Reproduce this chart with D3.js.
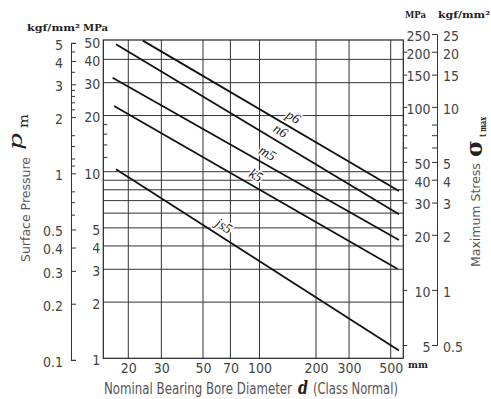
<!DOCTYPE html>
<html><head><meta charset="utf-8">
<script src="https://cdn.jsdelivr.net/npm/d3@7"></script>
<style>
body{margin:0;background:#fff}
svg{display:block}
.tk text{font-family:"Liberation Sans Narrow","DejaVu Sans Condensed",Roboto,sans-serif;font-size:14px;fill:#444}
.tk line,.tk path{stroke:#333;stroke-width:1}
.ttl{font-family:"Liberation Sans Narrow","DejaVu Sans Condensed",Roboto,sans-serif;fill:#555}
.unit{font-family:"DejaVu Serif",serif;font-weight:bold;font-size:10px;fill:#222}
</style>
</head><body>
<svg id="c" width="491" height="399"></svg>
<script>
// ---- data ----
const boreTicks = [20,30,50,70,100,200,300,500];
const mpaLeftTicks = [50,40,30,20,10,5,4,3,2,1];
const mpaGrid = [40,30,20,10,9,8,7,6,5,4,3,2];
const mpaLeftMinor = [18,16,14,12];
const kgfLeftTicks = [5,4,3,2,1,0.5,0.4,0.3,0.2,0.1];
const kgfLeftMinor = [4.5,3.5,2.8,2.6,2.4,2.2,1.6,1.4,1.2,1.1,0.8,0.7,0.6];
const stressMpaTicks = [250,200,150,100,50,40,30,20,10,5];
const stressKgfLabels = ["25","20","15","10","5","4","3","2","1","0.5"];
const stressMinor = [80,70,60];
const stressEdgeTicks = [200,150,100,80,70,60,50,40,30,20,10,5];

const fits = ["p6","n6","m5","k5","js5"];
const dStart = [23.9,17.2,16.5,16.8,17.2];
const pStart = [50.4,48.2,31.9,22.5,10.3];
const dEnd = [553,553,553,544,553];
const pEnd = [7.88,5.91,4.31,3.01,1.10];
const dLabel = [142,121,103.5,89.7,60.3];

// ---- layout ----
const L=103.3, R=403.3, T=40, B=358.3;
const KGF = 9.80665;
const svg = d3.select("#c");
const x = d3.scaleLog().domain([14.72,583.5]).range([L,R]);
const y = d3.scaleLog().domain([1,50.8]).range([B,T]);
const yk = d3.scaleLog().domain([0.1,5]).range([y(0.1*KGF), y(5*KGF)]);
const yr = d3.scaleLog().domain([5,250]).range([345,34]);

// fit a text horizontally to a target width by scaling
function fitText(parent, str, px, py, target, cls, attrs) {
  const t = parent.append("text").text(str);
  if (cls) t.attr("class", cls);
  for (const k in (attrs||{})) t.attr(k, attrs[k]);
  const w = t.node().getComputedTextLength();
  t.attr("transform", `translate(${px},${py}) scale(${target/w},1)`);
  return t;
}

// grid
const g = svg.append("g").attr("stroke","#333").attr("stroke-width",1);
g.selectAll(".v").data(boreTicks).join("line")
  .attr("x1",d=>x(d)).attr("x2",d=>x(d)).attr("y1",T).attr("y2",B);
g.selectAll(".h").data(mpaGrid).join("line")
  .attr("x1",L).attr("x2",R).attr("y1",d=>y(d)).attr("y2",d=>y(d));
svg.append("rect").attr("x",L).attr("y",T).attr("width",R-L).attr("height",B-T)
  .attr("fill","none").attr("stroke","#222").attr("stroke-width",1.2);

// bottom axis labels
svg.append("g").attr("class","tk").attr("transform",`translate(0,${B})`)
  .call(d3.axisBottom(x).tickValues(boreTicks).tickFormat(d3.format("d")).tickSize(0).tickPadding(5))
  .call(a=>a.select(".domain").remove());

// left MPa axis
svg.append("g").attr("class","tk").attr("transform",`translate(${L},0)`)
  .call(d3.axisLeft(y).tickValues(mpaLeftTicks).tickFormat(d3.format("d")).tickSize(0).tickPadding(3))
  .call(a=>a.select(".domain").remove())
  .selectAll("text").attr("dy","0.45em");
svg.append("g").attr("class","tk").attr("transform",`translate(${L},0)`)
  .call(d3.axisLeft(y).tickValues(mpaLeftMinor).tickFormat("").tickSize(-4))
  .call(a=>a.select(".domain").remove());

// left kgf axis
svg.append("g").attr("class","tk").attr("transform","translate(71,0)")
  .call(d3.axisLeft(yk).tickValues(kgfLeftTicks).tickFormat(d=>String(d)).tickSize(-5).tickPadding(8))
  .selectAll("text").attr("dy","0.45em");
svg.append("g").attr("class","tk").attr("transform","translate(71,0)")
  .call(d3.axisLeft(yk).tickValues(kgfLeftMinor).tickFormat("").tickSize(-4))
  .call(a=>a.select(".domain").remove());

// right edge ticks of plot
svg.append("g").attr("class","tk").attr("transform",`translate(${R},0)`)
  .call(d3.axisRight(yr).tickValues(stressEdgeTicks).tickFormat("").tickSize(4))
  .call(a=>a.select(".domain").remove());

// right stress axis
svg.append("g").attr("class","tk").attr("transform","translate(437,0)")
  .call(d3.axisLeft(yr).tickValues(stressMpaTicks).tickFormat(d3.format("d")).tickSize(5).tickPadding(1.5))
  .selectAll("text").attr("dy","0.45em");
svg.append("g").attr("class","tk").attr("transform","translate(437,0)")
  .call(d3.axisLeft(yr).tickValues(stressMinor).tickFormat("").tickSize(5))
  .call(a=>a.select(".domain").remove());
svg.append("g").attr("class","tk").attr("transform","translate(437,0)")
  .call(d3.axisRight(yr).tickValues(stressMpaTicks).tickFormat((d,i)=>stressKgfLabels[i]).tickSize(0).tickPadding(6))
  .call(a=>a.select(".domain").remove())
  .selectAll("text").attr("dy","0.45em");

// fit lines
const lines = fits.map((n,i)=>({name:n, pts:[[dStart[i],pStart[i]],[dEnd[i],pEnd[i]]], dl:dLabel[i]}));
const lineGen = d3.line().x(d=>x(d[0])).y(d=>y(d[1]));
svg.append("g").selectAll("path").data(lines).join("path")
  .attr("d",d=>lineGen(d.pts)).attr("fill","none").attr("stroke","#111").attr("stroke-width",1.8);

// labels
svg.append("g").selectAll("text").data(lines).join("text")
  .attr("transform",d=>{
    const x0=x(d.pts[0][0]), y0=y(d.pts[0][1]), x1=x(d.pts[1][0]), y1=y(d.pts[1][1]);
    const ang=Math.atan2(y1-y0,x1-x0)*180/Math.PI;
    const xl=x(d.dl), yl=y0+(xl-x0)*(y1-y0)/(x1-x0);
    return `translate(${xl},${yl}) rotate(${ang})`;
  })
  .attr("y",-6).attr("text-anchor","middle")
  .attr("font-family","Liberation Serif, DejaVu Serif, serif").attr("font-style","italic")
  .attr("font-size",14).attr("fill","#222")
  .attr("stroke","#fff").attr("stroke-width",3).attr("paint-order","stroke")
  .text(d=>d.name);

// unit labels
fitText(svg,"kgf/mm²",27,31,53,"unit");
fitText(svg,"MPa",83,31,25,"unit");
fitText(svg,"MPa",405,18,21,"unit");
fitText(svg,"kgf/mm²",438,18,52,"unit");
fitText(svg,"mm",408,368,20,"unit");

// bottom title
fitText(svg,"Nominal Bearing Bore Diameter",104,394,188,"ttl",{"font-size":16});
fitText(svg,"d",298,394,10,null,{"font-size":19,"font-family":"DejaVu Serif, serif","font-style":"italic","font-weight":"bold","fill":"#222"});
fitText(svg,"(Class Normal)",313,394,85,"ttl",{"font-size":16});

// left title
const lt = svg.append("g").attr("transform","translate(30,262) rotate(-90)");
fitText(lt,"Surface Pressure",0,0,105,"ttl",{"font-size":13});
fitText(lt,"p",112,-8.5,17,null,{"font-size":19,"font-family":"DejaVu Serif, serif","font-style":"italic","fill":"#222"});
fitText(lt,"m",134,-1.7,14,null,{"font-size":12,"font-family":"DejaVu Serif, serif","fill":"#222"});

// right title
const rt = svg.append("g").attr("transform","translate(480,267) rotate(-90)");
fitText(rt,"Maximum Stress",0,0,104,"ttl",{"font-size":13});
fitText(rt,"σ",110,2,17,null,{"font-size":22,"font-family":"DejaVu Serif, serif","font-weight":"bold","fill":"#222"});
fitText(rt,"t max",130,6,20,null,{"font-size":10,"font-family":"DejaVu Serif, serif","font-weight":"bold","fill":"#222"});
</script>
</body></html>
